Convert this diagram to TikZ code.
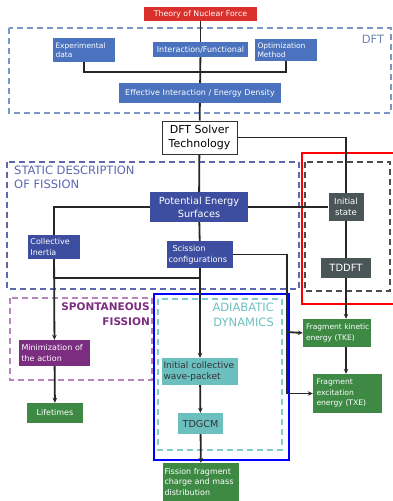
\documentclass[tikz,border=0pt]{standalone}
\usepackage{fontspec}
\setmainfont{DejaVu Sans}
\usetikzlibrary{arrows.meta}
\definecolor{dftblue}{HTML}{4A72BE}
\definecolor{pesblue}{HTML}{3D4EA0}
\definecolor{slate}{HTML}{4A5558}
\definecolor{purp}{HTML}{7B2D80}
\definecolor{grn}{HTML}{3E8A45}
\definecolor{teal2}{HTML}{6CBFBF}
\definecolor{theoryred}{HTML}{D9302C}
\definecolor{dftdash}{HTML}{7B96C8}
\definecolor{statdash}{HTML}{5C67AE}
\definecolor{spondash}{HTML}{B884BD}
\definecolor{adiadash}{HTML}{80CCCC}
\tikzset{
  box/.style={draw=none, text=white, inner sep=1pt, font=\fontsize{7.5}{9}\selectfont},
  dftbox/.style={box, fill=dftblue},
  pesbox/.style={box, fill=pesblue},
  slbox/.style={box, fill=slate},
  pubox/.style={box, fill=purp},
  grbox/.style={box, fill=grn},
  tebox/.style={box, fill=teal2, text=black!80},
  conn/.style={line width=1.8pt, black!85},
  arr/.style={conn, -{Stealth[length=5pt,width=4.5pt]}},
  dbox/.style={line width=1.5pt, dash pattern=on 6pt off 4pt},
  grouplabel/.style={inner sep=0pt, font=\fontsize{11.5}{14}\selectfont}
}
\begin{document}
\hyphenpenalty=10000
\begin{tikzpicture}[x=1pt,y=-1pt]
\useasboundingbox (0,0) rectangle (393,501);
% group frames
\draw[dbox, draw=dftdash] (9,28) rectangle (391,113);
\draw[dbox, draw=statdash] (7,162) rectangle (299,289);
\draw[dbox, draw=black!70] (305,162) rectangle (390,291);
\draw[line width=1.8pt, draw=red] (302,153) rectangle (398,304);
\draw[dbox, draw=spondash] (10,298) rectangle (152,380);
\draw[dbox, draw=adiadash] (158,299) rectangle (282,450);
\draw[line width=2.4pt, draw=blue] (154,294) rectangle (289,460);
% group labels
\node[grouplabel, text=dftdash!90!black] (ldft) at (373,39) {DFT};
\node[grouplabel, text=statdash, anchor=north west, align=left] (lstat) at (14,166) {STATIC DESCRIPTION\\OF FISSION};
\node[grouplabel, text=purp, anchor=north east, align=right, font=\fontsize{10.5}{15}\bfseries] (lspon) at (150,303) {SPONTANEOUS\\FISSION};
\node[grouplabel, text=teal2, anchor=north east, align=right, font=\fontsize{11.5}{15}\selectfont] (ladia) at (274,303) {ADIABATIC\\DYNAMICS};
% nodes
\node[box, fill=theoryred, minimum width=113pt, minimum height=14pt, font=\fontsize{7.8}{9}\selectfont] (theory) at (200.5,14) {Theory of Nuclear Force};
\node[dftbox, minimum width=62pt, minimum height=24pt, align=left, text width=57pt] (exp) at (84,50) {Experimental\\data};
\node[dftbox, minimum width=95pt, minimum height=15pt, font=\fontsize{8}{9}\selectfont] (inter) at (200.5,49.5) {Interaction/Functional};
\node[dftbox, minimum width=62pt, minimum height=22pt, align=left, text width=57pt] (optim) at (286,50) {Optimization\\Method};
\node[dftbox, minimum width=162pt, minimum height=20pt, font=\fontsize{8}{9}\selectfont] (eff) at (200,93) {Effective Interaction / Energy Density};
\node[draw=black!80, line width=1pt, fill=white, minimum width=75pt, minimum height=33pt, align=center, inner sep=1pt, font=\fontsize{11}{14}\selectfont] (solver) at (199.5,137.5) {DFT Solver\\Technology};
\node[pesbox, minimum width=98pt, minimum height=30pt, align=center, font=\fontsize{9.8}{13}\selectfont] (pes) at (199,207) {Potential Energy\\Surfaces};
\node[slbox, minimum width=35pt, minimum height=28pt, align=center, font=\fontsize{8.5}{11}\selectfont] (initst) at (346,207) {Initial\\state};
\node[pesbox, minimum width=52pt, minimum height=24pt, align=left, text width=47pt, font=\fontsize{8}{10.5}\selectfont] (colin) at (54,247) {Collective\\Inertia};
\node[pesbox, minimum width=66pt, minimum height=27pt, align=left, text width=63pt, font=\fontsize{8.2}{10.5}\selectfont] (sciss) at (200,254.5) {\hspace*{4pt}Scission\\configurations};
\node[slbox, minimum width=50pt, minimum height=20pt, font=\fontsize{10}{11}\selectfont] (tddft) at (346,268) {TDDFT};
\node[pubox, minimum width=71pt, minimum height=26pt, align=left, text width=66pt, font=\fontsize{8}{11}\selectfont] (minim) at (54.5,353) {Minimization of\\the action};
\node[grbox, minimum width=56pt, minimum height=20pt, font=\fontsize{8}{9}\selectfont] (life) at (55,413) {Lifetimes};
\node[tebox, minimum width=76pt, minimum height=27pt, align=left, text width=73pt, font=\fontsize{9}{11.5}\selectfont] (icwp) at (200,371.5) {Initial collective\\wave-packet};
\node[tebox, minimum width=45pt, minimum height=21pt, font=\fontsize{9.6}{11}\selectfont] (tdgcm) at (200.5,423.5) {TDGCM};
\node[grbox, minimum width=76pt, minimum height=38pt, align=left, text width=73pt, font=\fontsize{8}{10.5}\selectfont] (ffcm) at (201,482) {Fission fragment\\charge and mass\\distribution};
\node[grbox, minimum width=68pt, minimum height=28pt, align=left, text width=66pt, font=\fontsize{7.5}{10.5}\selectfont] (tke) at (337,333) {\hspace*{2pt}Fragment kinetic\\\hspace*{2pt}energy (TKE)};
\node[grbox, minimum width=69pt, minimum height=39pt, align=left, text width=62pt, font=\fontsize{7.6}{10.5}\selectfont] (txe) at (347.5,393.5) {Fragment\\excitation\\energy (TXE)};
% junction coordinates
\coordinate (jd) at (200,72);
\coordinate (j1) at (54,278);
\coordinate (j2) at (200,278);
\coordinate (jr) at (287,332);
\coordinate (jr2) at (287,393.5);
% connectors
\draw[conn] (theory) -- (inter);
\draw[conn] (inter) -- (eff);
\draw[conn] (exp.south) |- (jd) -| (optim.south);
\draw[conn] (eff) -- (solver);
\draw[conn] (solver.east) -| (initst.north);
\draw[conn] (solver) -- (pes);
\draw[conn] (pes.west) -| (colin.north);
\draw[conn] (pes.east) -- (initst.west);
\draw[conn] (pes) -- (sciss);
\draw[arr] (sciss) -- (icwp);
\draw[arr] (colin) -- (minim);
\draw[conn] (j1) -- (j2);
\draw[arr] (minim) -- (life);
\draw[arr] (icwp) -- (tdgcm);
\draw[arr] (tdgcm) -- (ffcm);
\draw[conn] (sciss.east) -| (jr2);
\draw[arr] (jr2) -- (txe.west);
\draw[arr] (jr) -- (tke.west);
\draw[conn] (initst) -- (tddft);
\draw[arr] (tddft.south) -- (tddft.south |- tke.north);
\draw[arr] (tke.south -| tddft.south) -- (tddft.south |- txe.north);
\end{tikzpicture}
\end{document}
